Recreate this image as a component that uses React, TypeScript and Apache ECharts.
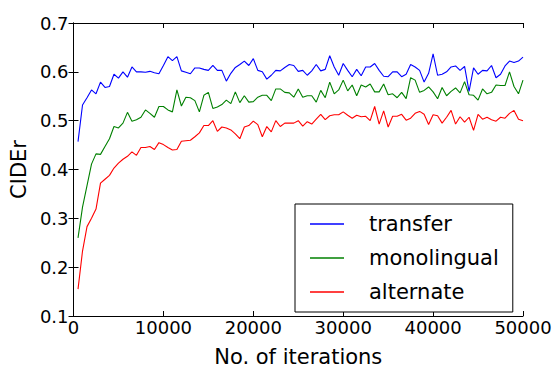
import React, { useEffect, useRef } from "react";
import * as echarts from "echarts";

const iterations = [
  500, 1000, 1500, 2000, 2500, 3000, 3500, 4000, 4500, 5000,
  5500, 6000, 6500, 7000, 7500, 8000, 8500, 9000, 9500, 10000,
  10500, 11000, 11500, 12000, 12500, 13000, 13500, 14000, 14500, 15000,
  15500, 16000, 16500, 17000, 17500, 18000, 18500, 19000, 19500, 20000,
  20500, 21000, 21500, 22000, 22500, 23000, 23500, 24000, 24500, 25000,
  25500, 26000, 26500, 27000, 27500, 28000, 28500, 29000, 29500, 30000,
  30500, 31000, 31500, 32000, 32500, 33000, 33500, 34000, 34500, 35000,
  35500, 36000, 36500, 37000, 37500, 38000, 38500, 39000, 39500, 40000,
  40500, 41000, 41500, 42000, 42500, 43000, 43500, 44000, 44500, 45000,
  45500, 46000, 46500, 47000, 47500, 48000, 48500, 49000, 49500, 50000,
];

const transfer = [
  0.457, 0.532, 0.547, 0.563, 0.555, 0.579, 0.568, 0.570, 0.595, 0.587,
  0.600, 0.589, 0.610, 0.600, 0.600, 0.599, 0.601, 0.598, 0.596, 0.613,
  0.631, 0.623, 0.631, 0.602, 0.599, 0.596, 0.608, 0.608, 0.605, 0.603,
  0.613, 0.603, 0.603, 0.581, 0.597, 0.609, 0.615, 0.622, 0.613, 0.627,
  0.603, 0.600, 0.585, 0.593, 0.603, 0.602, 0.609, 0.615, 0.613, 0.601,
  0.603, 0.593, 0.602, 0.615, 0.602, 0.605, 0.633, 0.610, 0.593, 0.617,
  0.603, 0.590, 0.605, 0.592, 0.610, 0.610, 0.617, 0.603, 0.591, 0.590,
  0.600, 0.600, 0.590, 0.595, 0.615, 0.610, 0.603, 0.579, 0.597, 0.637,
  0.593, 0.595, 0.600, 0.610, 0.612, 0.603, 0.611, 0.560, 0.608, 0.595,
  0.603, 0.602, 0.613, 0.588, 0.595, 0.612, 0.622, 0.619, 0.622, 0.630,
];

const monolingual = [
  0.260, 0.323, 0.367, 0.411, 0.432, 0.431, 0.447, 0.463, 0.488, 0.485,
  0.495, 0.517, 0.499, 0.502, 0.507, 0.522, 0.515, 0.507, 0.529, 0.529,
  0.522, 0.518, 0.563, 0.530, 0.548, 0.547, 0.541, 0.518, 0.552, 0.558,
  0.525, 0.528, 0.533, 0.542, 0.535, 0.559, 0.537, 0.551, 0.538, 0.539,
  0.548, 0.552, 0.552, 0.541, 0.565, 0.565, 0.558, 0.557, 0.548, 0.565,
  0.548, 0.551, 0.551, 0.538, 0.562, 0.547, 0.579, 0.555, 0.563, 0.583,
  0.561, 0.573, 0.551, 0.573, 0.569, 0.575, 0.559, 0.559, 0.575, 0.553,
  0.555, 0.547, 0.558, 0.545, 0.588, 0.583, 0.558, 0.562, 0.569, 0.559,
  0.545, 0.568, 0.551, 0.560, 0.567, 0.557, 0.580, 0.553, 0.552, 0.542,
  0.565, 0.555, 0.558, 0.573, 0.572, 0.572, 0.600, 0.570, 0.555, 0.583,
];

const alternate = [
  0.155, 0.233, 0.283, 0.300, 0.319, 0.372, 0.380, 0.388, 0.403, 0.413,
  0.421, 0.427, 0.436, 0.429, 0.445, 0.445, 0.447, 0.441, 0.455, 0.451,
  0.445, 0.440, 0.441, 0.458, 0.459, 0.460, 0.467, 0.475, 0.490, 0.490,
  0.500, 0.478, 0.487, 0.485, 0.481, 0.473, 0.463, 0.487, 0.490, 0.499,
  0.492, 0.467, 0.488, 0.477, 0.500, 0.488, 0.495, 0.495, 0.495, 0.500,
  0.489, 0.498, 0.493, 0.503, 0.513, 0.502, 0.510, 0.512, 0.512, 0.518,
  0.511, 0.505, 0.511, 0.508, 0.509, 0.500, 0.529, 0.493, 0.520, 0.487,
  0.509, 0.509, 0.513, 0.501, 0.505, 0.515, 0.519, 0.513, 0.492, 0.512,
  0.510, 0.495, 0.507, 0.521, 0.493, 0.508, 0.497, 0.507, 0.480, 0.513,
  0.503, 0.507, 0.502, 0.499, 0.507, 0.505, 0.515, 0.521, 0.503, 0.500,
];

const seriesNames = ["transfer", "monolingual", "alternate"];
const seriesColors = ["#0000ff", "#008000", "#ff0000"];

const FONT = "DejaVu Sans";

export default function App() {
  const ref = useRef<HTMLDivElement>(null);

  useEffect(() => {
    if (!ref.current) return;
    const chart = echarts.init(ref.current, undefined, { renderer: "svg" });
    const datasets = [transfer, monolingual, alternate];
    const axisLine = { show: true, lineStyle: { color: "#000", width: 1 } };
    const tick = { show: true, inside: true, length: 5, lineStyle: { color: "#000", width: 1 } };
    chart.setOption({
      animation: false,
      backgroundColor: "#fff",
      textStyle: { fontFamily: FONT },
      grid: { left: 72, right: 35, top: 23, bottom: 49, containLabel: false },
      legend: {
        orient: "vertical",
        left: 295,
        top: 204,
        data: seriesNames,
        icon: "rect",
        backgroundColor: "#fff",
        borderColor: "#000",
        borderWidth: 1,
        borderRadius: 0,
        padding: [9, 14, 9, 15],
        itemWidth: 34,
        itemHeight: 1.5,
        itemGap: 12,
        textStyle: {
          fontFamily: FONT,
          fontSize: 21,
          color: "#000",
          lineHeight: 22,
          padding: [0, 0, 0, 20],
        },
      },
      xAxis: [
        {
          type: "value",
          min: 0,
          max: 50000,
          interval: 10000,
          name: "No. of iterations",
          nameLocation: "middle",
          nameGap: 30,
          nameTextStyle: { fontFamily: FONT, fontSize: 21, color: "#000" },
          axisLine,
          axisTick: tick,
          splitLine: { show: false },
          axisLabel: {
            fontFamily: FONT,
            fontSize: 18,
            color: "#000",
            margin: 2,
            formatter: (v: number) => String(v),
          },
        },
        {
          type: "value",
          position: "top",
          min: 0,
          max: 50000,
          interval: 10000,
          axisLine,
          axisTick: tick,
          splitLine: { show: false },
          axisLabel: { show: false },
        },
      ],
      yAxis: [
        {
          type: "value",
          min: 0.1,
          max: 0.7,
          interval: 0.1,
          name: "CIDEr",
          nameLocation: "middle",
          nameGap: 42,
          nameTextStyle: { fontFamily: FONT, fontSize: 21, color: "#000" },
          axisLine,
          axisTick: tick,
          splitLine: { show: false },
          axisLabel: {
            fontFamily: FONT,
            fontSize: 18,
            color: "#000",
            margin: 5,
            formatter: (v: number) => v.toFixed(1),
          },
        },
        {
          type: "value",
          position: "right",
          min: 0.1,
          max: 0.7,
          interval: 0.1,
          axisLine,
          axisTick: tick,
          splitLine: { show: false },
          axisLabel: { show: false },
        },
      ],
      series: seriesNames.map((name, i) => ({
        name,
        type: "line",
        xAxisIndex: 0,
        yAxisIndex: 0,
        data: iterations.map((x, j) => [x, datasets[i][j]]),
        symbol: "none",
        showSymbol: false,
        color: seriesColors[i],
        lineStyle: { color: seriesColors[i], width: 1.1 },
      })),
    });
    return () => chart.dispose();
  }, []);

  return (
    <div
      ref={ref}
      style={{ position: "fixed", left: 0, top: 0, width: 558, height: 372 }}
    />
  );
}
